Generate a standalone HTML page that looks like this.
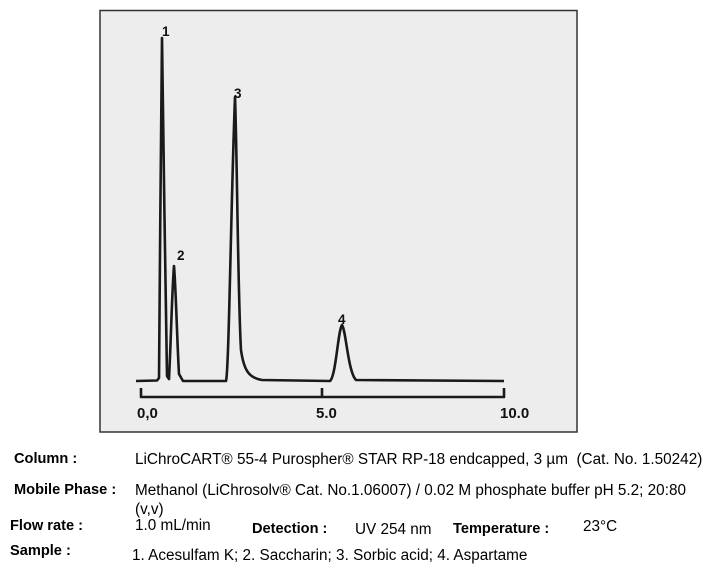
<!DOCTYPE html>
<html><head><style>
body{margin:0;width:706px;height:574px;background:#fff;position:relative;overflow:hidden;font-family:"Liberation Sans",Arial,sans-serif;}
.t{position:absolute;font-size:15.3px;color:#000;white-space:nowrap;line-height:17px}
.b{font-weight:bold;font-size:14.6px}
</style></head><body>
<svg width="706" height="440" style="position:absolute;left:0;top:0">
<rect x="100" y="10.5" width="477" height="421.5" fill="#ededed" stroke="#333" stroke-width="1.5"/>
<g fill="none" stroke="#1a1a1a" stroke-width="2.6" stroke-linejoin="round">
<path d="M136,381 L157,380.5 L159,378 C160,300 161,60 162,38 C163,60 165,300 167,376 L169,379 C171,340 172,290 174,266 C176,290 177,340 179,374 L183,381 L226,381 C229,370 231,200 235,97 C237,150 238,300 241,350 C244,372 250,378 262,380 L330,381 C336,376 338,330 342,325 C346,330 348,372 356,380 L504,381"/>
<path d="M141,388 L141,397 L504,397 L504,388 M322,388 L322,397"/>
</g>
<g font-family="Liberation Sans,Arial,sans-serif" font-weight="bold" font-size="13.5" fill="#111">
<text x="162" y="36">1</text>
<text x="177" y="260">2</text>
<text x="234" y="98">3</text>
<text x="338" y="324">4</text>
<text x="137" y="418" font-size="15">0,0</text>
<text x="316" y="418" font-size="15">5.0</text>
<text x="500" y="418" font-size="15">10.0</text>
</g>
</svg>
<div class="t b" style="left:14px;top:451px">Column :</div>
<div class="t" style="left:135px;top:451px">LiChroCART® 55-4 Purospher® STAR RP-18 endcapped, 3 µm&nbsp; (Cat. No. 1.50242)</div>
<div class="t b" style="left:14px;top:482px">Mobile Phase :</div>
<div class="t" style="left:135px;top:482px">Methanol (LiChrosolv® Cat. No.1.06007) / 0.02 M phosphate buffer pH 5.2; 20:80</div>
<div class="t" style="left:135px;top:501px">(v,v)</div>
<div class="t b" style="left:10px;top:518px">Flow rate :</div>
<div class="t" style="left:135px;top:517px">1.0 mL/min</div>
<div class="t b" style="left:252px;top:521px">Detection :</div>
<div class="t" style="left:355px;top:521px">UV 254 nm</div>
<div class="t b" style="left:453px;top:521px">Temperature :</div>
<div class="t" style="left:583px;top:518px">23°C</div>
<div class="t b" style="left:10px;top:543px">Sample :</div>
<div class="t" style="left:132px;top:547px">1. Acesulfam K; 2. Saccharin; 3. Sorbic acid; 4. Aspartame</div>
</body></html>
